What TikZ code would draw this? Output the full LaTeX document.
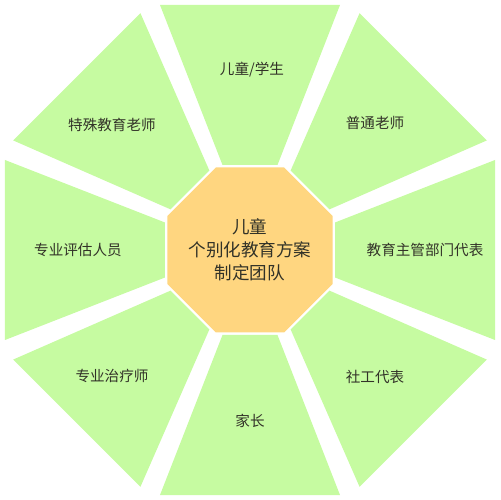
\documentclass[tikz,border=0pt]{standalone}
\usepackage{fontspec}
\newfontfamily\cjk{Noto Sans CJK SC}
\begin{document}
\begin{tikzpicture}[x=0.02cm,y=0.02cm]
\definecolor{segfill}{RGB}{198,251,161}
\definecolor{corefill}{RGB}{255,214,128}
\definecolor{txtcol}{RGB}{50,50,40}
\tikzset{
  segment/.style={fill=segfill,draw=none},
  corefillstyle/.style={fill=corefill,draw=none},
  lbl/.style={font=\cjk\fontsize{8.3}{10}\selectfont,text=txtcol,inner sep=0pt},
  core/.style={inner sep=0pt,text=txtcol,align=center,
    font=\cjk\fontsize{10}{13}\selectfont}
}
\useasboundingbox (-250,-250) rectangle (250,250);
\foreach \a in {0,45,...,315}
  \fill[segment,rotate=\a] (-90,245) -- (90,245) -- (27.5,85) -- (-27.5,85) -- cycle;
\fill[corefillstyle] (22.5:89.3) \foreach \a in {67.5,112.5,...,337.5} { -- (\a:89.3) } -- cycle;
\node[core] (c) at (0,0) {儿童\\个别化教育方案\\制定团队};
\node[lbl] (s1) at (2,180) {儿童/学生};
\node[lbl] (s2) at (125,127) {普通老师};
\node[lbl] (s3) at (175,0) {教育主管部门代表};
\node[lbl] (s4) at (125,-127) {社工代表};
\node[lbl] (s5) at (0,-171) {家长};
\node[lbl] (s6) at (-138,-126) {专业治疗师};
\node[lbl] (s7) at (-172,0) {专业评估人员};
\node[lbl] (s8) at (-138,125) {特殊教育老师};
\end{tikzpicture}
\end{document}
